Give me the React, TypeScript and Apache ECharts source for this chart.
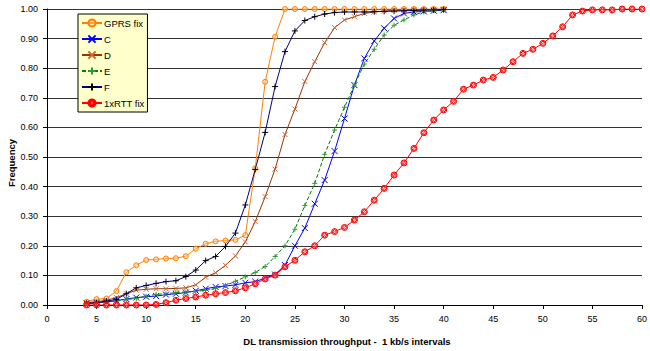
import React, { useEffect, useRef } from "react";
import * as echarts from "echarts";

const xShort = [4, 5, 6, 7, 8, 9, 10, 11, 12, 13, 14, 15, 16, 17, 18, 19, 20, 21, 22, 23, 24, 25, 26, 27, 28, 29, 30, 31, 32, 33, 34, 35, 36, 37, 38, 39, 40];
const xLong = [4, 5, 6, 7, 8, 9, 10, 11, 12, 13, 14, 15, 16, 17, 18, 19, 20, 21, 22, 23, 24, 25, 26, 27, 28, 29, 30, 31, 32, 33, 34, 35, 36, 37, 38, 39, 40, 41, 42, 43, 44, 45, 46, 47, 48, 49, 50, 51, 52, 53, 54, 55, 56, 57, 58, 59, 60];

const gprsFix = [0.011, 0.02, 0.022, 0.047, 0.111, 0.134, 0.152, 0.154, 0.157, 0.158, 0.165, 0.19, 0.207, 0.215, 0.218, 0.22, 0.236, 0.462, 0.754, 0.906, 1.0, 1.0, 1.0, 1.0, 1.0, 1.0, 1.0, 1.0, 1.0, 1.0, 1.0, 1.0, 1.0, 1.0, 1.0, 1.0, 1.0];
const seriesC = [0.005, 0.007, 0.01, 0.015, 0.02, 0.025, 0.028, 0.03, 0.035, 0.038, 0.042, 0.048, 0.055, 0.061, 0.064, 0.068, 0.075, 0.079, 0.091, 0.103, 0.135, 0.2, 0.26, 0.342, 0.422, 0.52, 0.63, 0.743, 0.833, 0.892, 0.935, 0.968, 0.985, 0.99, 0.992, 0.994, 0.996];
const seriesD = [0.008, 0.011, 0.016, 0.025, 0.038, 0.05, 0.053, 0.055, 0.055, 0.056, 0.058, 0.068, 0.094, 0.109, 0.134, 0.166, 0.213, 0.282, 0.366, 0.459, 0.576, 0.662, 0.755, 0.822, 0.886, 0.937, 0.963, 0.974, 0.985, 0.99, 0.993, 0.995, 0.996, 0.997, 0.998, 0.999, 1.0];
const seriesE = [0.006, 0.008, 0.01, 0.013, 0.019, 0.022, 0.03, 0.036, 0.038, 0.042, 0.044, 0.046, 0.05, 0.056, 0.066, 0.08, 0.095, 0.11, 0.13, 0.164, 0.2, 0.256, 0.336, 0.411, 0.509, 0.591, 0.668, 0.743, 0.814, 0.864, 0.912, 0.945, 0.963, 0.98, 0.99, 0.994, 0.997];
const seriesF = [0.006, 0.008, 0.013, 0.019, 0.038, 0.058, 0.066, 0.073, 0.079, 0.082, 0.096, 0.118, 0.15, 0.164, 0.198, 0.243, 0.338, 0.458, 0.583, 0.738, 0.856, 0.926, 0.961, 0.974, 0.983, 0.988, 0.99, 0.99, 0.99, 0.991, 0.992, 0.993, 0.994, 0.995, 0.996, 0.997, 0.998];
const rttFix = [0, 0, 0, 0, 0, 0, 0, 0.002, 0.008, 0.016, 0.022, 0.027, 0.033, 0.038, 0.042, 0.048, 0.058, 0.072, 0.088, 0.101, 0.129, 0.151, 0.18, 0.2, 0.236, 0.248, 0.262, 0.287, 0.315, 0.354, 0.394, 0.439, 0.48, 0.529, 0.582, 0.625, 0.659, 0.688, 0.729, 0.743, 0.76, 0.769, 0.794, 0.822, 0.85, 0.864, 0.884, 0.909, 0.94, 0.98, 0.993, 0.997, 0.997, 0.997, 1.0, 1.0, 1.0];

const xTickMin = 0;
const xTickMax = 60;
const xTickStep = 5;
const yTickStep = 0.1;

const FONT = "'Liberation Sans', Arial, sans-serif";
const CROSS = "path://M0,0L10,10M10,0L0,10";
const PLUS = "path://M5,0L5,10M0,5L10,5";
const RING = "path://M10,5A5,5,0,1,1,0,5A5,5,0,1,1,10,5Z";
const RINGD = "path://M10,5A5,5,0,1,1,0,5A5,5,0,1,1,10,5ZM5,1L9,5L5,9L1,5Z";

function pairs(xs: number[], ys: number[]) {
  return xs.map((x, i) => [x, ys[i]]);
}

export default function App() {
  const ref = useRef<HTMLDivElement>(null);
  useEffect(() => {
    if (!ref.current) return;
    const chart = echarts.init(ref.current, undefined, { renderer: "svg" });
    const mk = (
      name: string,
      xs: number[],
      ys: number[],
      lineColor: string,
      markColor: string,
      fill: string,
      symbol: string,
      symbolSize: number,
      dashed?: boolean
    ) => ({
      name,
      type: "line",
      data: pairs(xs, ys),
      symbol,
      symbolSize,
      showSymbol: true,
      showAllSymbol: true,
      lineStyle: { color: lineColor, width: 1, type: dashed ? [4, 2] : "solid" },
      itemStyle: {
        color: fill,
        borderColor: markColor,
        borderWidth: 1,
      },
      emphasis: { disabled: true },
    });
    chart.setOption({
      animation: false,
      backgroundColor: "#ffffff",
      textStyle: { fontFamily: FONT },
      grid: { left: 47, right: 3, top: 9, bottom: 46, containLabel: false },
      legend: {
        orient: "vertical",
        left: 78,
        top: 14,
        backgroundColor: "#FFFFCC",
        borderColor: "#000000",
        borderWidth: 1,
        borderRadius: 0,
        padding: [4, 3, 4, 3],
        itemGap: 6,
        itemWidth: 20,
        itemHeight: 9,
        textStyle: { fontSize: 9.5, color: "#000000", fontFamily: FONT, padding: [0, 0, 0, -3] },
        data: ["GPRS fix", "C", "D", "E", "F", "1xRTT fix"],
      },
      xAxis: {
        type: "value",
        min: xTickMin,
        max: xTickMax,
        interval: xTickStep,
        axisLine: { show: true, lineStyle: { color: "#000000", width: 1 } },
        axisTick: { show: true, inside: false, length: 4, lineStyle: { color: "#000000" } },
        axisLabel: { fontSize: 9, color: "#000000", margin: 9, fontFamily: FONT },
        splitLine: { show: false },
      },
      yAxis: {
        type: "value",
        min: 0,
        max: 1,
        interval: yTickStep,
        axisLine: { show: true, lineStyle: { color: "#000000", width: 1 } },
        axisTick: { show: true, inside: false, length: 4, lineStyle: { color: "#000000" } },
        axisLabel: {
          fontSize: 9,
          color: "#000000",
          margin: 9,
          fontFamily: FONT,
          formatter: (v: number) => v.toFixed(2),
        },
        splitLine: { show: true, lineStyle: { color: "#333333", width: 1 } },
      },
      graphic: [
        {
          type: "text",
          x: 347,
          y: 341,
          style: {
            text: "DL transmission throughput -  1 kb/s intervals",
            font: `bold 9.5px ${FONT}`,
            fill: "#000000",
            align: "center",
            verticalAlign: "middle",
          },
        },
        {
          type: "text",
          x: 11,
          y: 163,
          rotation: Math.PI / 2,
          style: {
            text: "Frequency",
            font: `bold 9.5px ${FONT}`,
            fill: "#000000",
            align: "center",
            verticalAlign: "middle",
          },
        },
      ],
      series: [
        mk("GPRS fix", xShort, gprsFix, "#FF8000", "#FF8000", "rgba(255,200,150,0.5)", RING, 5),
        mk("C", xShort, seriesC, "#0000FF", "#0000FF", "#0000FF", CROSS, 6),
        mk("D", xShort, seriesD, "#993300", "#CC6633", "#CC6633", CROSS, 5),
        mk("E", xShort, seriesE, "#008000", "#339933", "#339933", PLUS, 5, true),
        mk("F", xShort, seriesF, "#000080", "#000000", "#000000", PLUS, 6),
        mk("1xRTT fix", xLong, rttFix, "#FF0000", "#FF0000", "rgba(255,160,160,0.5)", RINGD, 6),
      ],
    });
    return () => chart.dispose();
  }, []);
  return (
    <div
      ref={ref}
      style={{ position: "fixed", left: 0, top: 0, width: 650, height: 351 }}
    />
  );
}
